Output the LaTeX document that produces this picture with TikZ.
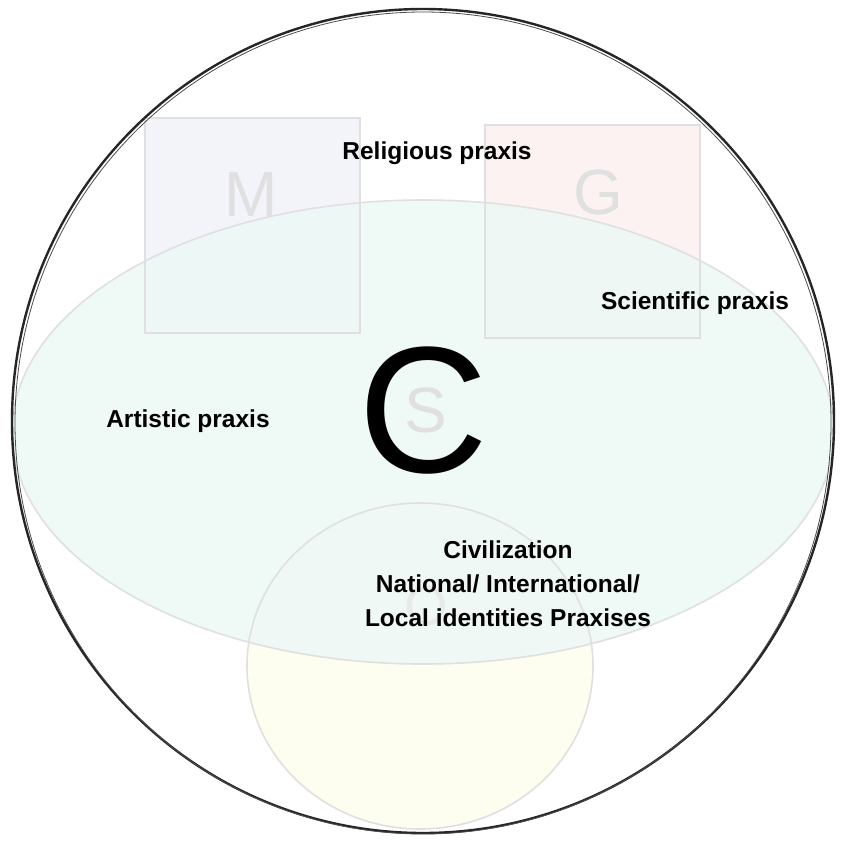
\documentclass[tikz,border=0pt]{standalone}
\usepackage{fontspec}
\setmainfont{Liberation Sans}
\definecolor{ellfill}{HTML}{EDF8F5}
\definecolor{mfill}{HTML}{F3F3FA}
\definecolor{gfill}{HTML}{FDF2F2}
\definecolor{yfill}{HTML}{FDFDF0}
\definecolor{faint}{HTML}{E0E0E0}
\definecolor{edge}{HTML}{E0E0E0}
\tikzset{
  lbl/.style={font=\fontsize{24.5}{34}\selectfont\bfseries, text=black, inner sep=0pt, align=center},
  ghost/.style={text=faint, inner sep=0pt},
  softedge/.style={draw=edge, line width=1.6pt},
  sketch/.style={draw=black!85, line width=2.4pt}
}
\begin{document}
\begin{tikzpicture}[x=1pt,y=-1pt]
\useasboundingbox (0,0) rectangle (845,841);
\fill[white] (0,0) rectangle (845,841);
% fills
\fill[yfill] (420,666) ellipse [x radius=173, y radius=163];
\fill[mfill] (145,118) rectangle (360,333);
\fill[gfill] (485,125) rectangle (700,338);
\fill[ellfill, fill opacity=0.85] (423,432) ellipse [x radius=411, y radius=232];
% soft outlines
\draw[softedge] (145,118) rectangle (360,333);
\draw[softedge] (485,125) rectangle (700,338);
\draw[softedge] (420,666) ellipse [x radius=173, y radius=163];
\draw[softedge] (423,432) ellipse [x radius=411, y radius=232];
% sketched outer circle
\draw[sketch] (423,421) ellipse [x radius=411, y radius=412];
\draw[black!70, line width=0.8pt] (423,423) ellipse [x radius=408, y radius=411];
% ghost letters
\node[ghost, font=\fontsize{64}{64}\selectfont] (m) at (251,194) {M};
\node[ghost, font=\fontsize{64}{64}\selectfont] (g) at (598,192) {G};
\node[ghost, font=\fontsize{64}{64}\selectfont] (s) at (426,410) {S};
\node[ghost, text=faint!70, font=\fontsize{56}{56}\selectfont] (o) at (426,606) {O};
% big C
\node[inner sep=0pt, font=\fontsize{180}{180}\selectfont] (c) at (423,411) {C};
% labels
\node[lbl] (rel) at (437,153) {Religious praxis};
\node[lbl] (sci) at (695,303) {Scientific praxis};
\node[lbl] (art) at (188,421) {Artistic praxis};
\node[lbl] (civ) at (508,584) {Civilization\\National/ International/\\Local identities Praxises};
\end{tikzpicture}
\end{document}
